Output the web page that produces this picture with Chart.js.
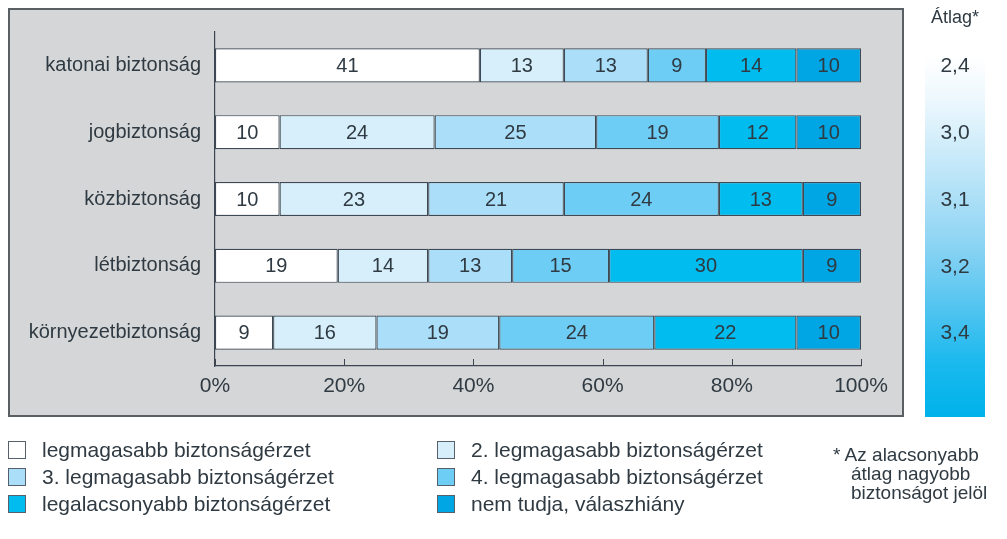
<!DOCTYPE html>
<html>
<head>
<meta charset="utf-8">
<script src="https://cdn.jsdelivr.net/npm/chart.js@4/dist/chart.umd.min.js"></script>
<style>
  html, body { margin: 0; padding: 0; background: #fff; }
  #wrap { position: relative; width: 1007px; height: 539px; font-family: "Liberation Sans", Arial, sans-serif; color: #2f3a42; }
  #chart { position: absolute; left: 0; top: 0; }
  .leg { position: absolute; font-size: 21px; line-height: 22px; white-space: nowrap; }
  .leg span.box { position: absolute; left: 0; top: 2px; width: 16px; height: 16px; border: 1px solid #55606a; }
  .leg span.txt { position: absolute; left: 34px; top: 0; }
  #note { position: absolute; left: 833px; top: 445px; font-size: 19px; line-height: 19px; white-space: nowrap; }
  #note div.ind { padding-left: 18px; }
</style>
</head>
<body>
<div id="wrap">
  <canvas id="chart" width="1007" height="539"></canvas>
  <div id="legend"></div>
  <div id="note"><div>* Az alacsonyabb</div><div class="ind">átlag nagyobb</div><div class="ind">biztonságot jelöl</div></div>
</div>
<script>
// adatok
const categories = ['katonai biztonság', 'jogbiztonság', 'közbiztonság', 'létbiztonság', 'környezetbiztonság'];
const seriesNames = [
  'legmagasabb biztonságérzet',
  '2. legmagasabb biztonságérzet',
  '3. legmagasabb biztonságérzet',
  '4. legmagasabb biztonságérzet',
  'legalacsonyabb biztonságérzet',
  'nem tudja, válaszhiány'
];
const legmagasabb = [41, 10, 10, 19, 9];
const masodik = [13, 24, 23, 14, 16];
const harmadik = [13, 25, 21, 13, 19];
const negyedik = [9, 19, 24, 15, 24];
const legalacsonyabb = [14, 12, 13, 30, 22];
const nemTudja = [10, 10, 9, 9, 10];
const atlag = ['2,4', '3,0', '3,1', '3,2', '3,4'];
const xTicks = [0, 20, 40, 60, 80, 100];

const seriesValues = [legmagasabb, masodik, harmadik, negyedik, legalacsonyabb, nemTudja];
const colors = ['#ffffff', '#d6effb', '#abdef8', '#6dcdf4', '#00bcef', '#00a5e4'];

const FONT = '"Liberation Sans", Arial, sans-serif';
const TEXT = '#2f3a42';

// háttér panel + átlag oszlop
const panelPlugin = {
  id: 'panel',
  beforeDraw(chart) {
    const c = chart.ctx;
    c.save();
    c.fillStyle = '#d5d6d8';
    c.fillRect(9, 9, 894, 407);
    c.strokeStyle = '#5a5f63';
    c.lineWidth = 2;
    c.strokeRect(9, 9, 894, 407);

    // átlag színátmenet
    const g = c.createLinearGradient(0, 55, 0, 417);
    g.addColorStop(0, '#ffffff');
    g.addColorStop(0.12, '#eef8fd');
    g.addColorStop(0.3, '#c4e8f9');
    g.addColorStop(0.5, '#93d6f4');
    g.addColorStop(0.7, '#52c4f0');
    g.addColorStop(0.85, '#1ab9ee');
    g.addColorStop(1, '#00b2ea');
    c.fillStyle = g;
    c.fillRect(925, 55, 60, 362);
    c.restore();
  },
  afterDraw(chart) {
    const c = chart.ctx;
    const y = chart.scales.y;
    const x = chart.scales.x;
    c.save();
    // tick jelek az x tengelyen (felfelé)
    c.strokeStyle = '#3d4650';
    c.lineWidth = 1;
    xTicks.forEach(v => {
      const px = Math.round(x.getPixelForValue(v)) + 0.5;
      c.beginPath();
      c.moveTo(px, chart.chartArea.bottom);
      c.lineTo(px, chart.chartArea.bottom - 7);
      c.stroke();
    });
    // átlag
    c.fillStyle = TEXT;
    c.font = '18px ' + FONT;
    c.textAlign = 'center';
    c.textBaseline = 'middle';
    c.fillText('Átlag*', 955, 18);
    c.font = '21px ' + FONT;
    atlag.forEach((a, i) => {
      c.fillText(a, 955, y.getPixelForValue(i) + 1);
    });
    c.restore();
  }
};

// értékek a sávokon
const labelPlugin = {
  id: 'barLabels',
  afterDatasetsDraw(chart) {
    const c = chart.ctx;
    c.save();
    c.fillStyle = TEXT;
    c.font = '20px ' + FONT;
    c.textAlign = 'center';
    c.textBaseline = 'middle';
    chart.data.datasets.forEach((ds, di) => {
      const meta = chart.getDatasetMeta(di);
      meta.data.forEach((bar, i) => {
        const cx = (bar.x + bar.base) / 2;
        c.fillText(String(ds.data[i]), cx, bar.y + 1);
      });
    });
    c.restore();
  }
};

const chart = new Chart(document.getElementById('chart'), {
  type: 'bar',
  data: {
    labels: categories,
    datasets: seriesNames.map((name, i) => ({
      label: name,
      data: seriesValues[i],
      backgroundColor: colors[i],
      borderColor: '#3d4a55',
      borderWidth: 1.2,
      borderSkipped: false,
      barPercentage: 0.51,
      categoryPercentage: 1
    }))
  },
  options: {
    indexAxis: 'y',
    responsive: false,
    animation: false,
    devicePixelRatio: 1,
    layout: { padding: { left: 0, right: 146, top: 32, bottom: 133 } },
    plugins: { legend: { display: false }, tooltip: { enabled: false } },
    scales: {
      x: {
        stacked: true,
        min: 0,
        max: 100,
        afterBuildTicks(scale) { scale.ticks = xTicks.map(v => ({ value: v })); },
        afterFit(scale) { scale.height = 40; },
        grid: { display: false, drawTicks: false },
        border: { display: true, color: '#3d4650', width: 1.2 },
        ticks: {
          padding: 8,
          color: TEXT,
          font: { family: FONT, size: 21 },
          callback: v => v + '%'
        }
      },
      y: {
        stacked: true,
        afterFit(scale) { scale.width = 215; },
        grid: { display: false, drawTicks: false },
        border: { display: true, color: '#3d4650', width: 1.2 },
        ticks: {
          padding: 14,
          color: TEXT,
          font: { family: FONT, size: 20 }
        }
      }
    }
  },
  plugins: [panelPlugin, labelPlugin]
});

// jelmagyarázat
const legendEl = document.getElementById('legend');
const legendPos = [[8, 439], [437, 439], [8, 466], [437, 466], [8, 493], [437, 493]];
seriesNames.forEach((name, i) => {
  const d = document.createElement('div');
  d.className = 'leg';
  d.style.left = legendPos[i][0] + 'px';
  d.style.top = legendPos[i][1] + 'px';
  d.innerHTML = '<span class="box" style="background:' + colors[i] + '"></span><span class="txt">' + name + '</span>';
  legendEl.appendChild(d);
});
</script>
</body>
</html>
